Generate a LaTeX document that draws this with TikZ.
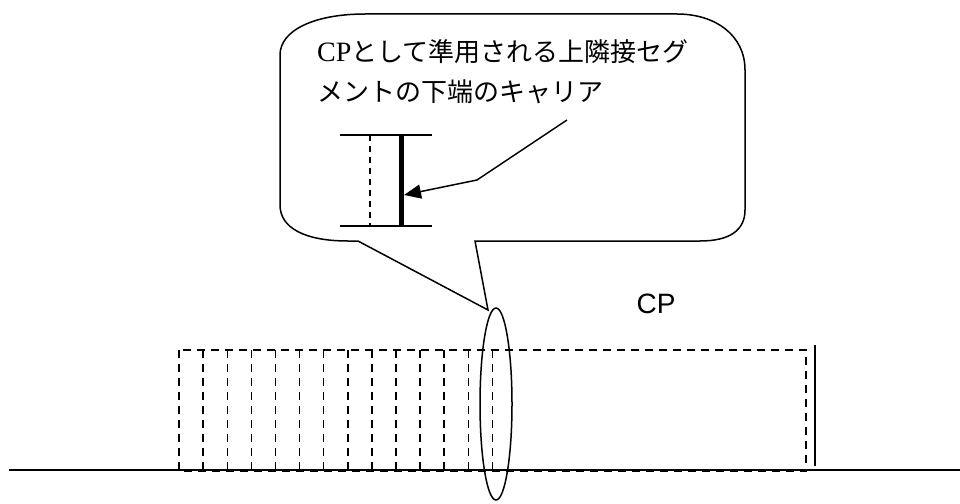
\documentclass[tikz,border=0pt]{standalone}
\usepackage{fontspec}
\newfontfamily\jpfont{Noto Sans CJK JP}
\newfontfamily\serifcp{Liberation Serif}
\newfontfamily\sanscp{Liberation Sans}
\usetikzlibrary{arrows.meta,shapes.geometric}
\begin{document}
\begin{tikzpicture}[x=1pt,y=-1pt,
  thin line/.style={line width=1.5pt,black},
  dash box/.style={line width=1.5pt,dash pattern=on 8pt off 6pt},
  callout text/.style={anchor=base west,inner sep=0pt,font=\fontsize{26}{30}\selectfont}]
\useasboundingbox (0,0) rectangle (960,503);
% callout
\draw[thin line] (475,241) -- (488,310) coordinate (tip) -- (358,241) -- (348,241)
  .. controls (305,241) and (280,228) .. (280,205) -- (280,55)
  .. controls (280,30) and (315,14) .. (365,14) -- (677,14)
  .. controls (715,14) and (745,35) .. (745,70) -- (745,210)
  .. controls (745,230) and (730,241) .. (700,241) -- cycle;
\node[callout text] (l1) at (317,62) {\serifcp\fontsize{28}{30}\selectfont CP\jpfont\fontsize{26}{30}\selectfont として準用される上隣接セグ};
\node[callout text] (l2) at (317,101) {\jpfont メントの下端のキャリア};
% inner sketch
\coordinate (ta) at (340,135); \coordinate (tb) at (432,135);
\coordinate (ba) at (340,226); \coordinate (bb) at (432,226);
\draw[thin line] (ta) -- (tb);
\draw[thin line] (ba) -- (bb);
\draw[line width=1.5pt,dash pattern=on 6pt off 5pt] (370,135) -- (370,226);
\draw[line width=5pt] (401,135) coordinate (thk1) -- (401,226) coordinate (thk2);
\coordinate (as) at (567,120);
\coordinate (ab) at (477,180);
\coordinate (ae) at (404,195);
\draw[thin line,-{Triangle[length=17pt,width=14pt]}] (as) -- (ab) -- (ae);
% bottom
\coordinate (g1) at (9,470); \coordinate (g2) at (960,470);
\draw[thin line] (g1) -- (g2);
\draw[dash box] (179,350) rectangle (806,471);
\foreach \x in {203.2,227.3,251.4,275.5,299.6,323.7,347.8,371.9,396.0,420.1,444.2,468.3,492.4}
  \draw[dash box] (\x,350) -- (\x,471);
\draw[thin line] (815,345) -- (815,466);
\node[draw,thin line,ellipse,minimum width=32pt,minimum height=192pt,inner sep=0pt] (ell) at (496,404) {};
\node[font=\sanscp\fontsize{28}{32}\selectfont,inner sep=0pt] (cp) at (656,304) {CP};
\end{tikzpicture}
\end{document}
